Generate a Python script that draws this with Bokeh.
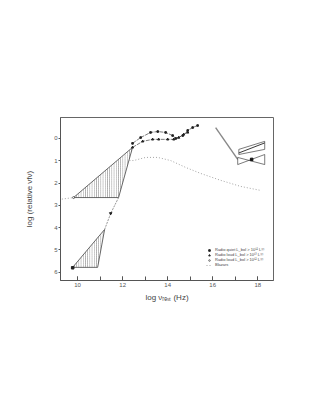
from bokeh.plotting import figure
from bokeh.models import SingleIntervalTicker, FixedTicker, Legend, LegendItem
from bokeh.embed import file_html
from bokeh.resources import INLINE

# Radio quiet mean SED (IR-optical-UV)
rq_x = [12.44, 12.8, 13.24, 13.56, 13.91, 14.22, 14.36, 14.67, 14.89, 15.11, 15.33]
rq_y = [-0.22, 0.04, 0.27, 0.31, 0.27, 0.13, 0.0, 0.13, 0.36, 0.49, 0.58]
# Radio loud mean SED
rl_x = [12.44, 12.89, 13.33, 13.6, 14.0, 14.27, 14.49, 14.71, 14.89]
rl_y = [-0.4, -0.13, -0.04, -0.04, -0.04, -0.04, 0.04, 0.18, 0.27]
# Blazars
bl_x = [12.3, 12.49, 13.02, 13.56, 14.13, 14.8, 15.47, 16.36, 17.24, 18.13]
bl_y = [-0.99, -0.99, -0.85, -0.85, -0.99, -1.3, -1.57, -1.88, -2.15, -2.33]
# radio-to-IR link (dotted)
rr_x = [11.2, 11.47, 11.82]
rr_y = [-4.08, -3.36, -2.65]
lead_x = [9.3, 9.82]
lead_y = [-2.72, -2.65]
# hatched interpolation regions
uh_x = [9.82, 11.82, 12.44]
uh_y = [-2.65, -2.65, -0.4]
lh_x = [9.78, 10.89, 11.2]
lh_y = [-5.78, -5.78, -4.08]
# radio points
rad_sq_x = [9.78]
rad_sq_y = [-5.8]
rad_tri_x = [11.47]
rad_tri_y = [-3.36]
rad_ci_x = [9.82]
rad_ci_y = [-2.65]
# X-ray
xr_x = [16.13, 17.11]
xr_y = [0.49, -0.94]
ub_x = [17.16, 18.31, 18.31, 17.16, 17.16]
ub_y = [-0.49, -0.13, -0.49, -0.72, -0.49]
ubd_x = [17.16, 18.31]
ubd_y = [-0.65, -0.2]
lb_x = [17.11, 18.31, 18.31, 17.11, 17.11]
lb_y = [-0.85, -1.17, -0.72, -1.17, -0.85]
xpt_x = [17.73]
xpt_y = [-0.94]

y_ticks = [0, -1, -2, -3, -4, -5, -6]
y_tick_labels = {0: "0", -1: "1", -2: "2", -3: "3", -4: "4", -5: "5", -6: "6"}

DARK = "#444444"
GRAY = "#8a8a8a"
FONT = "Liberation Sans"

p = figure(output_backend="svg", toolbar_location=None,
           x_range=(9.24, 18.7), y_range=(-6.37, 0.94),
           frame_width=213, frame_height=163,
           min_border_left=60, min_border_top=117,
           min_border_right=25, min_border_bottom=30)
p.background_fill_color = "white"
p.border_fill_color = "white"
p.outline_line_color = "#666666"
p.outline_line_width = 1
p.xgrid.visible = False
p.ygrid.visible = False

p.xaxis.ticker = SingleIntervalTicker(interval=2, num_minor_ticks=2)
p.yaxis.ticker = FixedTicker(ticks=y_ticks)
p.yaxis.major_label_overrides = y_tick_labels
for ax in (p.xaxis[0], p.yaxis[0]):
    ax.axis_line_color = "#555555"
    ax.major_tick_line_color = "#555555"
    ax.minor_tick_line_color = "#555555"
    ax.major_label_text_font = FONT
    ax.major_label_text_font_size = "6px"
    ax.major_label_text_color = "#555555"
    ax.axis_label_text_font = FONT
    ax.axis_label_text_font_size = "8px"
    ax.axis_label_text_font_style = "normal"
    ax.axis_label_text_color = "#444444"
p.xaxis.major_tick_in = 4
p.xaxis.major_tick_out = 0
p.xaxis.minor_tick_in = 4
p.xaxis.minor_tick_out = 0
p.xaxis.major_label_standoff = 2
p.xaxis.axis_label = "log νᵣₑₛₜ (Hz)"
p.xaxis.axis_label_standoff = 3
p.yaxis.major_tick_in = 0
p.yaxis.major_tick_out = 2
p.yaxis.minor_tick_in = 0
p.yaxis.minor_tick_out = 0
p.yaxis.major_label_standoff = 1
p.yaxis.axis_label = "log (relative νfν)"
p.yaxis.axis_label_standoff = 17

# hatched regions
p.patch(uh_x, uh_y, fill_alpha=0, line_color=DARK, line_width=0.8,
        hatch_pattern="|", hatch_color="#333333", hatch_scale=2.2, hatch_weight=0.5)
p.patch(lh_x, lh_y, fill_alpha=0, line_color=DARK, line_width=0.8,
        hatch_pattern="|", hatch_color="#333333", hatch_scale=2.2, hatch_weight=0.5)

# dotted links
p.line(rr_x, rr_y, line_color=GRAY, line_width=0.9, line_dash="2 1")
p.line(lead_x, lead_y, line_color=GRAY, line_width=0.8, line_dash="1 2")
bl = p.line(bl_x, bl_y, line_color="#9a9a9a", line_width=0.9, line_dash="1 2")

# mean SED curves
p.line(rq_x, rq_y, line_color=DARK, line_width=0.7, line_dash="4 1")
p.line(rl_x, rl_y, line_color=DARK, line_width=0.7, line_dash="4 1")
rq = p.scatter(rq_x, rq_y, marker="square", size=1.6, color="#222222")
rl = p.scatter(rl_x, rl_y, marker="triangle", size=2.2, color="#222222")

# radio points
p.scatter(rad_sq_x, rad_sq_y, marker="square", size=2.5, color="#222222")
p.scatter(rad_tri_x, rad_tri_y, marker="inverted_triangle", size=2.5, color="#222222")
rc = p.scatter(rad_ci_x, rad_ci_y, marker="circle", size=2, line_color="#222222",
               fill_color="white", line_width=0.6)

# X-ray
p.line(xr_x, xr_y, line_color="#888888", line_width=1.4)
p.line(ub_x, ub_y, line_color=DARK, line_width=0.7)
p.line(ubd_x, ubd_y, line_color="#222222", line_width=0.9)
p.line(lb_x, lb_y, line_color=DARK, line_width=0.7)
p.scatter(xpt_x, xpt_y, marker="square", size=2.5, color="#111111")

legend = Legend(items=[
    LegendItem(label="Radio quiet L_bol > 10¹² L☉", renderers=[rq]),
    LegendItem(label="Radio loud L_bol > 10¹³ L☉", renderers=[rl]),
    LegendItem(label="Radio loud L_bol > 10¹² L☉", renderers=[rc]),
    LegendItem(label="Blazars", renderers=[bl]),
], location=(146, 13))
legend.label_text_font = FONT
legend.label_text_font_size = "4px"
legend.label_text_color = "#444444"
legend.label_height = 4
legend.label_standoff = 3
legend.glyph_width = 6
legend.glyph_height = 4
legend.spacing = 0
legend.padding = 0
legend.margin = 0
legend.border_line_color = None
legend.background_fill_alpha = 0
p.add_layout(legend, "center")

open("out.html", "w").write(file_html(p, INLINE))
